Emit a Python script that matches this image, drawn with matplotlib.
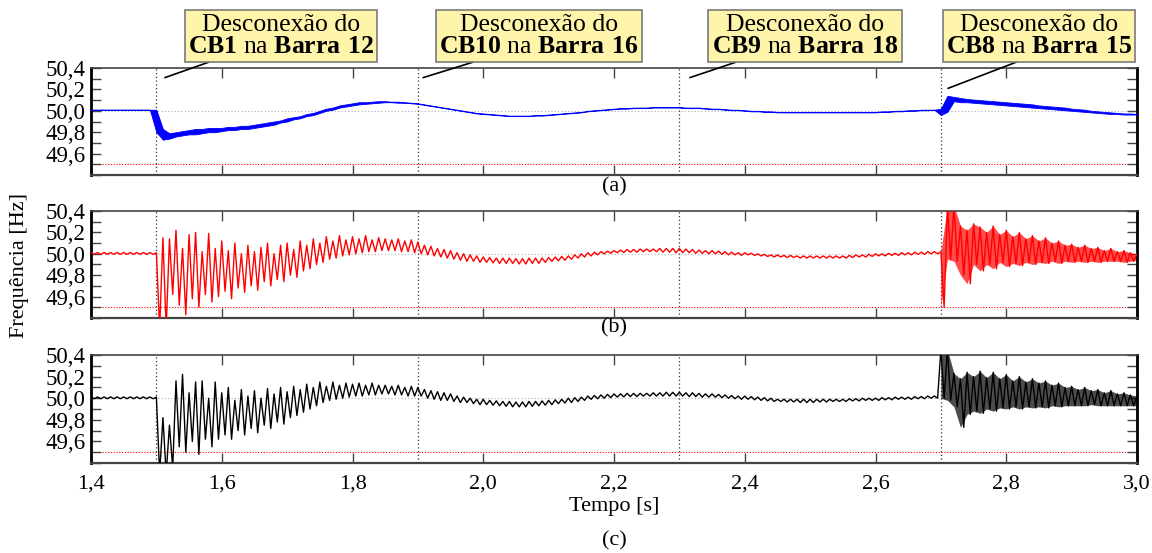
import numpy as np
import matplotlib
matplotlib.use("Agg")
import matplotlib.pyplot as plt
from matplotlib.ticker import MultipleLocator, FuncFormatter

plt.rcParams['font.family'] = ['Liberation Serif', 'DejaVu Serif']
plt.rcParams['mathtext.fontset'] = 'custom'
plt.rcParams['mathtext.rm'] = 'Liberation Serif'
plt.rcParams['mathtext.bf'] = 'Liberation Serif:bold'

# sample times (s), one band sample every 10 ms
t = np.round(np.arange(1.40, 3.0001, 0.01), 2)

# panel (a) - upper / lower edge of the trace
a_hi = [50.01, 50.01, 50.01, 50.01, 50.01, 50.01, 50.01, 50.01, 50.01, 50.01,
        50.01, 49.83, 49.79, 49.80, 49.81, 49.82, 49.83, 49.83, 49.84, 49.84,
        49.84, 49.85, 49.85, 49.86, 49.86, 49.87, 49.88, 49.89, 49.90, 49.91,
        49.93, 49.94, 49.95, 49.97, 49.98, 50.00, 50.02, 50.03, 50.05, 50.06,
        50.07, 50.08, 50.08, 50.085, 50.09, 50.09, 50.085, 50.085, 50.08, 50.075,
        50.07, 50.06, 50.05, 50.04, 50.03, 50.02, 50.01, 50.00, 49.99, 49.98,
        49.975, 49.97, 49.965, 49.96, 49.955, 49.955, 49.955, 49.955, 49.96, 49.96,
        49.965, 49.97, 49.975, 49.98, 49.985, 49.99, 50.00, 50.005, 50.01, 50.015,
        50.02, 50.025, 50.025, 50.03, 50.03, 50.03, 50.035, 50.035, 50.035, 50.035,
        50.035, 50.03, 50.03, 50.03, 50.025, 50.02, 50.02, 50.015, 50.01, 50.01,
        50.005, 50.00, 50.00, 49.995, 49.995, 49.99, 49.99, 49.99, 49.99, 49.99,
        49.99, 49.99, 49.99, 49.99, 49.99, 49.99, 49.99, 49.99, 49.99, 49.99,
        49.99, 49.995, 49.995, 50.00, 50.00, 50.005, 50.005, 50.01, 50.01, 50.01,
        50.02, 50.14, 50.13, 50.12, 50.11, 50.105, 50.10, 50.095, 50.09, 50.085,
        50.08, 50.075, 50.07, 50.065, 50.06, 50.05, 50.045, 50.04, 50.035, 50.03,
        50.02, 50.015, 50.01, 50.00, 49.995, 49.99, 49.985, 49.98, 49.975, 49.975,
        49.97]
a_lo = [50.01, 50.01, 50.01, 50.01, 50.01, 50.01, 50.01, 50.01, 50.01, 50.01,
        49.80, 49.73, 49.74, 49.76, 49.77, 49.78, 49.78, 49.79, 49.80, 49.80,
        49.81, 49.82, 49.82, 49.83, 49.83, 49.84, 49.85, 49.86, 49.87, 49.89,
        49.90, 49.92, 49.93, 49.95, 49.96, 49.98, 50.00, 50.01, 50.03, 50.04,
        50.05, 50.06, 50.065, 50.07, 50.075, 50.08, 50.08, 50.075, 50.075, 50.07,
        50.065, 50.055, 50.045, 50.035, 50.025, 50.015, 50.005, 49.995, 49.985, 49.975,
        49.97, 49.965, 49.96, 49.955, 49.95, 49.95, 49.95, 49.95, 49.955, 49.955,
        49.96, 49.965, 49.97, 49.975, 49.98, 49.985, 49.995, 50.00, 50.005, 50.01,
        50.015, 50.02, 50.02, 50.025, 50.025, 50.025, 50.03, 50.03, 50.03, 50.03,
        50.03, 50.025, 50.025, 50.025, 50.02, 50.015, 50.015, 50.01, 50.005, 50.005,
        50.00, 49.995, 49.995, 49.99, 49.99, 49.985, 49.985, 49.985, 49.985, 49.985,
        49.985, 49.985, 49.985, 49.985, 49.985, 49.985, 49.985, 49.985, 49.985, 49.985,
        49.985, 49.99, 49.99, 49.995, 49.995, 50.00, 50.00, 50.005, 50.005, 50.01,
        49.96, 49.99, 50.09, 50.08, 50.08, 50.075, 50.07, 50.065, 50.06, 50.055,
        50.05, 50.045, 50.04, 50.035, 50.03, 50.025, 50.02, 50.015, 50.01, 50.005,
        50.00, 49.995, 49.99, 49.985, 49.98, 49.975, 49.97, 49.97, 49.965, 49.965,
        49.965]

# panel (b)
b_hi = [50.012, 50.012, 50.012, 50.012, 50.012, 50.012, 50.012, 50.012, 50.012, 50.012,
        50.01, 50.15, 50.14, 50.22, 50.05, 50.18, 50.20, 50.02, 50.19, 50.05,
        50.12, 50.03, 50.10, 50.00, 50.08, 50.02, 50.06, 50.10, 50.00, 50.08,
        50.10, 50.04, 50.12, 50.08, 50.14, 50.10, 50.16, 50.12, 50.17, 50.13,
        50.16, 50.14, 50.17, 50.13, 50.15, 50.14, 50.13, 50.14, 50.12, 50.13,
        50.11, 50.08, 50.07, 50.05, 50.04, 50.03, 50.01, 50.00, 49.99, 49.98,
        49.97, 49.965, 49.96, 49.96, 49.96, 49.955, 49.955, 49.96, 49.96, 49.96,
        49.965, 49.97, 49.975, 49.98, 49.99, 50.00, 50.01, 50.015, 50.02, 50.025,
        50.03, 50.035, 50.04, 50.04, 50.045, 50.045, 50.045, 50.05, 50.05, 50.05,
        50.05, 50.045, 50.04, 50.035, 50.03, 50.03, 50.025, 50.02, 50.015, 50.01,
        50.01, 50.005, 50.00, 49.995, 49.99, 49.99, 49.985, 49.985, 49.98, 49.98,
        49.98, 49.98, 49.98, 49.98, 49.98, 49.98, 49.985, 49.99, 49.99, 49.995,
        50.00, 50.00, 50.005, 50.005, 50.01, 50.01, 50.015, 50.015, 50.02, 50.02,
        50.02, 50.45, 50.45, 50.26, 50.22, 50.28, 50.25, 50.20, 50.26, 50.18,
        50.22, 50.16, 50.20, 50.14, 50.17, 50.12, 50.15, 50.10, 50.12, 50.08,
        50.09, 50.06, 50.08, 50.05, 50.06, 50.03, 50.05, 50.02, 50.03, 50.01,
        50.00]
b_lo = [49.995, 49.995, 49.995, 49.995, 49.995, 49.995, 49.995, 49.995, 49.995, 49.995,
        49.30, 49.30, 49.62, 49.52, 49.43, 49.58, 49.50, 49.62, 49.55, 49.60,
        49.65, 49.58, 49.68, 49.64, 49.70, 49.66, 49.74, 49.70, 49.76, 49.74,
        49.80, 49.78, 49.84, 49.86, 49.90, 49.92, 49.95, 49.96, 49.98, 49.99,
        50.00, 50.01, 50.02, 50.02, 50.03, 50.03, 50.03, 50.02, 50.02, 50.01,
        50.00, 49.99, 49.98, 49.97, 49.96, 49.95, 49.94, 49.93, 49.93, 49.92,
        49.92, 49.915, 49.91, 49.91, 49.91, 49.905, 49.905, 49.91, 49.91, 49.92,
        49.93, 49.935, 49.94, 49.95, 49.96, 49.97, 49.98, 49.99, 50.00, 50.005,
        50.01, 50.012, 50.015, 50.015, 50.02, 50.02, 50.02, 50.015, 50.015, 50.01,
        50.01, 50.01, 50.005, 50.005, 50.00, 50.00, 49.995, 49.99, 49.99, 49.985,
        49.99, 49.985, 49.98, 49.975, 49.97, 49.97, 49.965, 49.965, 49.96, 49.96,
        49.96, 49.96, 49.96, 49.96, 49.96, 49.96, 49.965, 49.97, 49.97, 49.975,
        49.98, 49.98, 49.985, 49.985, 49.99, 49.99, 49.995, 49.995, 50.00, 50.00,
        49.50, 49.95, 49.93, 49.80, 49.72, 49.90, 49.84, 49.90, 49.86, 49.92,
        49.88, 49.91, 49.89, 49.92, 49.90, 49.92, 49.91, 49.93, 49.91, 49.93,
        49.92, 49.93, 49.92, 49.93, 49.92, 49.93, 49.93, 49.93, 49.92, 49.93,
        49.94]

# panel (c)
c_hi = [50.012, 50.012, 50.012, 50.012, 50.012, 50.012, 50.012, 50.012, 50.012, 50.012,
        50.01, 49.82, 49.75, 50.16, 50.22, 50.05, 50.15, 50.16, 50.00, 50.15,
        50.05, 50.10, 49.98, 50.08, 50.02, 50.07, 50.00, 50.09, 50.04, 50.10,
        50.06, 50.11, 50.08, 50.13, 50.10, 50.15, 50.11, 50.15, 50.12, 50.14,
        50.13, 50.14, 50.12, 50.14, 50.12, 50.12, 50.11, 50.12, 50.10, 50.11,
        50.10, 50.08, 50.07, 50.06, 50.05, 50.04, 50.02, 50.01, 50.00, 49.99,
        49.99, 49.98, 49.975, 49.97, 49.97, 49.965, 49.965, 49.97, 49.97, 49.975,
        49.98, 49.985, 49.99, 50.00, 50.005, 50.01, 50.02, 50.025, 50.03, 50.035,
        50.04, 50.04, 50.045, 50.045, 50.045, 50.045, 50.05, 50.05, 50.055, 50.055,
        50.055, 50.05, 50.05, 50.045, 50.04, 50.04, 50.035, 50.03, 50.025, 50.02,
        50.02, 50.015, 50.01, 50.005, 50.00, 49.99, 49.99, 49.99, 49.99, 49.99,
        49.99, 49.99, 49.99, 49.99, 49.99, 49.99, 49.995, 49.995, 50.00, 50.00,
        50.00, 50.005, 50.005, 50.01, 50.01, 50.01, 50.015, 50.015, 50.02, 50.02,
        50.45, 50.45, 50.23, 50.18, 50.24, 50.20, 50.25, 50.19, 50.24, 50.18,
        50.22, 50.16, 50.20, 50.15, 50.18, 50.14, 50.16, 50.12, 50.14, 50.10,
        50.11, 50.08, 50.10, 50.07, 50.08, 50.05, 50.07, 50.04, 50.05, 50.03,
        50.02]
c_lo = [49.995, 49.995, 49.995, 49.995, 49.995, 49.995, 49.995, 49.995, 49.995, 49.995,
        49.30, 49.30, 49.35, 49.55, 49.50, 49.60, 49.48, 49.62, 49.55, 49.62,
        49.66, 49.62, 49.70, 49.66, 49.72, 49.68, 49.75, 49.72, 49.78, 49.76,
        49.82, 49.84, 49.87, 49.90, 49.93, 49.96, 49.98, 49.99, 50.00, 50.01,
        50.02, 50.02, 50.03, 50.03, 50.04, 50.04, 50.03, 50.03, 50.02, 50.02,
        50.02, 50.00, 49.99, 49.98, 49.98, 49.97, 49.96, 49.96, 49.95, 49.94,
        49.94, 49.935, 49.93, 49.925, 49.92, 49.92, 49.92, 49.925, 49.93, 49.935,
        49.94, 49.95, 49.955, 49.96, 49.97, 49.98, 49.99, 49.995, 50.00, 50.005,
        50.01, 50.012, 50.015, 50.015, 50.02, 50.02, 50.02, 50.02, 50.02, 50.02,
        50.02, 50.015, 50.015, 50.01, 50.01, 50.01, 50.005, 50.00, 49.995, 49.99,
        49.99, 49.985, 49.98, 49.975, 49.97, 49.97, 49.965, 49.965, 49.96, 49.96,
        49.96, 49.965, 49.965, 49.97, 49.97, 49.97, 49.975, 49.975, 49.98, 49.98,
        49.98, 49.985, 49.985, 49.99, 49.99, 49.99, 49.995, 49.995, 50.00, 50.00,
        50.00, 49.98, 49.92, 49.73, 49.85, 49.88, 49.86, 49.90, 49.88, 49.91,
        49.90, 49.92, 49.90, 49.92, 49.91, 49.92, 49.91, 49.93, 49.92, 49.93,
        49.93, 49.93, 49.93, 49.94, 49.93, 49.93, 49.93, 49.93, 49.93, 49.93,
        49.93]

events = [1.5, 1.9, 2.3, 2.7]
event_labels = [("CB1", "Barra 12"), ("CB10", "Barra 16"),
                ("CB9", "Barra 18"), ("CB8", "Barra 15")]
limit = 49.5
nominal = 50.0

fig = plt.figure(figsize=(11.52, 5.53), dpi=100)
W, H = 1152, 553
left, width = 91 / W, 1046 / W
ax_a = fig.add_axes([left, 1 - 175 / H, width, 107 / H])
ax_b = fig.add_axes([left, 1 - 318 / H, width, 107 / H])
ax_c = fig.add_axes([left, 1 - 463 / H, width, 108 / H])

comma = FuncFormatter(lambda v, p: f"{v:.1f}".replace('.', ','))


def zigzag(hi, lo):
    # draw the band as a line that alternates between upper and lower edge
    x = np.column_stack([t, t + 0.005]).ravel()
    y = np.column_stack([hi, lo]).ravel()
    return x, y


for ax in [ax_a, ax_b, ax_c]:
    ax.axhline(nominal, color='#b0b0b0', ls=(0, (1, 2)), lw=0.8, zorder=1)
    ax.axhline(limit, color='red', ls=(0, (1, 1.5)), lw=0.8, zorder=1)
    for e in events:
        ax.axvline(e, color='#333333', ls=(0, (1, 2)), lw=0.9, zorder=1)
    ax.set_xlim(1.4, 3.0)
    ax.set_ylim(49.4, 50.4)
    ax.xaxis.set_major_locator(MultipleLocator(0.2))
    ax.yaxis.set_minor_locator(MultipleLocator(0.1))
    ax.yaxis.set_major_formatter(comma)
    ax.xaxis.set_major_formatter(comma)
    ax.set_yticks([49.6, 49.8, 50.0, 50.2, 50.4])
    ax.tick_params(axis='both', which='both', direction='in', top=True, right=True,
                   length=7, width=1, color='#444444', labelsize=16.5, pad=4)
    for s in ax.spines.values():
        s.set_color('#444444')
        s.set_linewidth(1.2)
    ax.spines['left'].set_color('black')
    ax.spines['left'].set_linewidth(2)
    ax.spines['right'].set_color('black')
    ax.spines['right'].set_linewidth(2)
    ax.spines['bottom'].set_linewidth(1.6)

# (a): smooth trace drawn as a thin band
ax_a.fill_between(t, a_lo, a_hi, color='#0000ff', lw=0.6, zorder=3)

# (b), (c): strongly oscillating traces
for ax, hi, lo, col in [(ax_b, b_hi, b_lo, '#ff0000'), (ax_c, c_hi, c_lo, '#000000')]:
    x, y = zigzag(hi, lo)
    ax.plot(x, y, color=col, lw=1.0, zorder=3)
    ax.fill_between(t, lo, hi, where=t >= 2.7, color=col, alpha=0.7, lw=0, zorder=2)

ax_a.tick_params(labelbottom=False)
ax_b.tick_params(labelbottom=False)
ax_c.tick_params(axis='x', labelsize=16, pad=8)

fig.text(614 / W, 1 - 187 / H, "(a)", ha='center', va='center', fontsize=16)
fig.text(614 / W, 1 - 328 / H, "(b)", ha='center', va='center', fontsize=16)
fig.text(614 / W, 1 - 506 / H, "Tempo [s]", ha='center', va='center', fontsize=16)
fig.text(614 / W, 1 - 541 / H, "(c)", ha='center', va='center', fontsize=16)
fig.text(20 / W, 1 - 265 / H, "Frequência [Hz]", rotation=90, ha='center', va='center',
         fontsize=16)

# callout boxes above panel (a)
box_x = [281, 539, 805, 1039]
tip_y = [50.31, 50.31, 50.31, 50.21]
tip_dx = [0.013, 0.008, 0.016, 0.011]
rel = [0.17, 0.23, 0.19, 0.43]
for e, (cb, barra), bx, ty, dx, r in zip(events, event_labels, box_x, tip_y, tip_dx, rel):
    txt = "Desconexão do\n$\\mathbf{%s}$ na $\\mathbf{%s}$" % (cb, barra.replace(' ', '\\ '))
    ax_a.annotate(txt, xy=(e + dx, ty), xycoords='data',
                  xytext=(bx, H - 36), textcoords='figure pixels',
                  ha='center', va='center', fontsize=18.5, linespacing=1.05,
                  multialignment='center',
                  bbox=dict(boxstyle='square,pad=0.12', fc='#fff5aa', ec='#7a7a7a', lw=1.2),
                  arrowprops=dict(arrowstyle='-', color='black', lw=1.2, relpos=(r, 0),
                                  shrinkA=0, shrinkB=0),
                  annotation_clip=False, zorder=5)

fig.savefig("out.png", dpi=100)
